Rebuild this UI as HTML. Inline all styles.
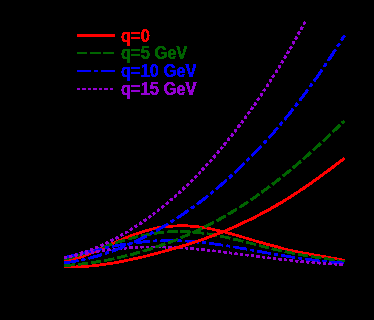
<!DOCTYPE html>
<html><head><meta charset="utf-8"><style>
html,body{margin:0;padding:0;background:#000;}
svg{display:block;}
text{font-family:"Liberation Sans",sans-serif;font-size:16px;font-weight:bold;}
</style></head><body>
<svg width="374" height="320" viewBox="0 0 374 320">
<defs><filter id="th" x="0" y="0" width="374" height="320" filterUnits="userSpaceOnUse" color-interpolation-filters="sRGB"><feComponentTransfer><feFuncA type="discrete" tableValues="0 1"/></feComponentTransfer></filter><filter id="th3" x="0" y="0" width="374" height="320" filterUnits="userSpaceOnUse" color-interpolation-filters="sRGB"><feComponentTransfer><feFuncA type="discrete" tableValues="0 0 0 0 0 0 0 1 1 1 1 1 1 1 1 1 1 1 1 1"/></feComponentTransfer></filter></defs>
<rect width="374" height="320" fill="#000"/>
<g filter="url(#th3)"><path d="M64.40 260.94 C67.73 260.57 71.07 259.89 74.40 259.00 C77.74 258.11 81.07 257.00 84.41 255.75 C87.74 254.51 91.08 253.13 94.41 251.68 C97.75 250.23 101.08 248.72 104.41 247.19 C107.75 245.67 111.08 244.14 114.42 242.64 C117.75 241.15 121.09 239.69 124.42 238.31 C127.76 236.93 131.09 235.62 134.43 234.42 C137.76 233.22 141.09 232.12 144.43 231.15 C147.76 230.17 151.10 229.32 154.43 228.60 C157.77 227.88 161.10 227.30 164.44 226.85 C167.77 226.40 171.10 226.10 174.44 225.92 C177.77 225.75 181.11 225.71 184.44 225.80 C187.78 225.89 191.11 226.11 194.45 226.44 C197.78 226.77 201.12 227.22 204.45 227.76 C207.78 228.30 211.12 228.94 214.45 229.66 C217.79 230.38 221.12 231.18 224.46 232.03 C227.79 232.88 231.13 233.79 234.46 234.73 C237.80 235.67 241.13 236.64 244.46 237.63 C247.80 238.62 251.13 239.62 254.47 240.61 C257.80 241.60 261.14 242.58 264.47 243.54 C267.81 244.49 271.14 245.43 274.48 246.32 C277.81 247.21 281.14 248.07 284.48 248.88 C287.81 249.69 291.15 250.45 294.48 251.17 C297.82 251.88 301.15 252.55 304.49 253.19 C307.82 253.82 311.15 254.41 314.49 254.99 C317.82 255.57 321.16 256.12 324.49 256.69 C327.83 257.25 331.16 257.83 334.50 258.45 C337.83 259.08 341.17 259.76 344.50 260.56" fill="none" stroke="#ff0000" stroke-width="2.56"/></g>
<g filter="url(#th3)"><path d="M64.40 259.03 C67.73 258.28 71.07 257.42 74.40 256.47 C77.74 255.53 81.07 254.50 84.41 253.43 C87.74 252.36 91.08 251.24 94.41 250.10 C97.75 248.97 101.08 247.82 104.41 246.68 C107.75 245.54 111.08 244.42 114.42 243.33 C117.75 242.25 121.09 241.20 124.42 240.21 C127.76 239.23 131.09 238.30 134.43 237.45 C137.76 236.60 141.09 235.82 144.43 235.14 C147.76 234.46 151.10 233.86 154.43 233.37 C157.77 232.87 161.10 232.47 164.44 232.18 C167.77 231.88 171.10 231.69 174.44 231.60 C177.77 231.51 181.11 231.52 184.44 231.62 C187.78 231.73 191.11 231.94 194.45 232.23 C197.78 232.53 201.12 232.91 204.45 233.37 C207.78 233.84 211.12 234.38 214.45 234.98 C217.79 235.59 221.12 236.26 224.46 236.98 C227.79 237.70 231.13 238.47 234.46 239.26 C237.80 240.06 241.13 240.89 244.46 241.74 C247.80 242.58 251.13 243.44 254.47 244.29 C257.80 245.15 261.14 246.00 264.47 246.84 C267.81 247.67 271.14 248.49 274.48 249.27 C277.81 250.06 281.14 250.81 284.48 251.53 C287.81 252.25 291.15 252.93 294.48 253.57 C297.82 254.21 301.15 254.81 304.49 255.37 C307.82 255.93 311.15 256.46 314.49 256.96 C317.82 257.47 321.16 257.95 324.49 258.44 C327.83 258.93 331.16 259.42 334.50 259.94 C337.83 260.47 341.17 261.04 344.50 261.69" fill="none" stroke="#006400" stroke-width="2.54" stroke-dasharray="10.5 2.81" stroke-dashoffset="0.00"/></g>
<g filter="url(#th3)"><path d="M64.40 257.43 C67.73 256.72 71.07 255.95 74.40 255.17 C77.74 254.38 81.07 253.58 84.41 252.78 C87.74 251.97 91.08 251.17 94.41 250.39 C97.75 249.61 101.08 248.85 104.41 248.12 C107.75 247.40 111.08 246.71 114.42 246.06 C117.75 245.42 121.09 244.82 124.42 244.27 C127.76 243.73 131.09 243.24 134.43 242.81 C137.76 242.38 141.09 242.01 144.43 241.71 C147.76 241.40 151.10 241.16 154.43 240.98 C157.77 240.80 161.10 240.69 164.44 240.63 C167.77 240.58 171.10 240.59 174.44 240.66 C177.77 240.73 181.11 240.86 184.44 241.04 C187.78 241.22 191.11 241.46 194.45 241.75 C197.78 242.04 201.12 242.37 204.45 242.75 C207.78 243.13 211.12 243.55 214.45 244.01 C217.79 244.46 221.12 244.95 224.46 245.47 C227.79 245.99 231.13 246.53 234.46 247.09 C237.80 247.65 241.13 248.23 244.46 248.82 C247.80 249.41 251.13 250.01 254.47 250.61 C257.80 251.21 261.14 251.81 264.47 252.41 C267.81 253.00 271.14 253.59 274.48 254.17 C277.81 254.75 281.14 255.32 284.48 255.86 C287.81 256.41 291.15 256.94 294.48 257.45 C297.82 257.95 301.15 258.44 304.49 258.89 C307.82 259.35 311.15 259.78 314.49 260.19 C317.82 260.59 321.16 260.97 324.49 261.32 C327.83 261.67 331.16 262.00 334.50 262.30 C337.83 262.60 341.17 262.88 344.50 263.15" fill="none" stroke="#0000ff" stroke-width="2.53" stroke-dasharray="14.2 3.1 4 3.1" stroke-dashoffset="0.00"/></g>
<g filter="url(#th3)"><path d="M64.40 257.68 C67.73 256.98 71.07 256.29 74.40 255.62 C77.74 254.95 81.07 254.30 84.41 253.68 C87.74 253.06 91.08 252.48 94.41 251.93 C97.75 251.38 101.08 250.87 104.41 250.41 C107.75 249.94 111.08 249.52 114.42 249.14 C117.75 248.77 121.09 248.44 124.42 248.16 C127.76 247.88 131.09 247.65 134.43 247.46 C137.76 247.28 141.09 247.15 144.43 247.06 C147.76 246.97 151.10 246.93 154.43 246.93 C157.77 246.94 161.10 246.99 164.44 247.08 C167.77 247.17 171.10 247.30 174.44 247.47 C177.77 247.64 181.11 247.84 184.44 248.08 C187.78 248.32 191.11 248.59 194.45 248.89 C197.78 249.19 201.12 249.52 204.45 249.87 C207.78 250.22 211.12 250.59 214.45 250.98 C217.79 251.36 221.12 251.77 224.46 252.18 C227.79 252.60 231.13 253.02 234.46 253.46 C237.80 253.89 241.13 254.33 244.46 254.76 C247.80 255.20 251.13 255.64 254.47 256.08 C257.80 256.51 261.14 256.94 264.47 257.36 C267.81 257.78 271.14 258.19 274.48 258.60 C277.81 259.00 281.14 259.38 284.48 259.76 C287.81 260.13 291.15 260.49 294.48 260.83 C297.82 261.17 301.15 261.50 304.49 261.80 C307.82 262.11 311.15 262.40 314.49 262.66 C317.82 262.93 321.16 263.19 324.49 263.42 C327.83 263.65 331.16 263.87 334.50 264.07 C337.83 264.27 341.17 264.46 344.50 264.63" fill="none" stroke="#9400d3" stroke-width="2.52" stroke-dasharray="3.3 2.25" stroke-dashoffset="0.85"/></g>
<g filter="url(#th3)"><path d="M64.40 266.61 C67.51 266.80 70.62 266.89 73.74 266.88 C76.85 266.87 79.96 266.78 83.07 266.60 C86.19 266.43 89.30 266.18 92.41 265.87" fill="none" stroke="#ff0000" stroke-width="2.47"/><path d="M92.41 265.87 C95.52 265.56 98.63 265.19 101.75 264.77 C104.86 264.34 107.97 263.87 111.08 263.35 C114.20 262.84 117.31 262.28 120.42 261.68" fill="none" stroke="#ff0000" stroke-width="2.55"/><path d="M120.42 261.68 C123.53 261.09 126.64 260.46 129.76 259.80 C132.87 259.13 135.98 258.44 139.09 257.72 C142.21 257.01 145.32 256.26 148.43 255.49" fill="none" stroke="#ff0000" stroke-width="2.60"/><path d="M148.43 255.49 C151.54 254.72 154.65 253.92 157.77 253.10 C160.88 252.27 163.99 251.43 167.10 250.55 C170.22 249.68 173.33 248.78 176.44 247.86" fill="none" stroke="#ff0000" stroke-width="2.63"/><path d="M176.44 247.86 C179.55 246.93 182.66 245.98 185.78 245.00 C188.89 244.02 192.00 243.01 195.11 241.97 C198.23 240.93 201.34 239.85 204.45 238.75" fill="none" stroke="#ff0000" stroke-width="2.67"/><path d="M204.45 238.75 C207.56 237.64 210.67 236.50 213.79 235.31 C216.90 234.13 220.01 232.91 223.12 231.65 C226.24 230.39 229.35 229.09 232.46 227.74" fill="none" stroke="#ff0000" stroke-width="2.71"/><path d="M232.46 227.74 C235.57 226.39 238.68 225.00 241.80 223.56 C244.91 222.12 248.02 220.63 251.13 219.09 C254.25 217.55 257.36 215.96 260.47 214.32" fill="none" stroke="#ff0000" stroke-width="2.77"/><path d="M260.47 214.32 C263.58 212.68 266.69 210.98 269.81 209.24 C272.92 207.49 276.03 205.69 279.14 203.83 C282.26 201.98 285.37 200.07 288.48 198.11" fill="none" stroke="#ff0000" stroke-width="2.84"/><path d="M288.48 198.11 C291.59 196.16 294.70 194.14 297.82 192.08 C300.93 190.02 304.04 187.91 307.15 185.76 C310.27 183.61 313.38 181.40 316.49 179.17" fill="none" stroke="#ff0000" stroke-width="2.85"/><path d="M316.49 179.17 C319.60 176.93 322.71 174.65 325.83 172.34 C328.94 170.03 332.05 167.68 335.16 165.32 C338.28 162.95 341.39 160.57 344.50 158.17" fill="none" stroke="#ff0000" stroke-width="2.85"/></g>
<g filter="url(#th3)"><path d="M64.40 265.57 C67.51 265.39 70.62 265.15 73.74 264.86 C76.85 264.57 79.96 264.23 83.07 263.85 C86.19 263.47 89.30 263.04 92.41 262.57" fill="none" stroke="#006400" stroke-width="2.52" stroke-dasharray="10.5 2.81" stroke-dashoffset="0.00"/><path d="M92.41 262.57 C95.52 262.10 98.63 261.59 101.75 261.03 C104.86 260.47 107.97 259.88 111.08 259.24 C114.20 258.60 117.31 257.92 120.42 257.20" fill="none" stroke="#006400" stroke-width="2.58" stroke-dasharray="10.5 2.81" stroke-dashoffset="28.18"/><path d="M120.42 257.20 C123.53 256.48 126.64 255.72 129.76 254.92 C132.87 254.11 135.98 253.27 139.09 252.39 C142.21 251.50 145.32 250.57 148.43 249.60" fill="none" stroke="#006400" stroke-width="2.63" stroke-dasharray="10.5 2.81" stroke-dashoffset="56.71"/><path d="M148.43 249.60 C151.54 248.63 154.65 247.62 157.77 246.56 C160.88 245.50 163.99 244.40 167.10 243.25 C170.22 242.10 173.33 240.91 176.44 239.66" fill="none" stroke="#006400" stroke-width="2.69" stroke-dasharray="10.5 2.81" stroke-dashoffset="85.74"/><path d="M176.44 239.66 C179.55 238.42 182.66 237.13 185.78 235.79 C188.89 234.45 192.00 233.06 195.11 231.61 C198.23 230.17 201.34 228.68 204.45 227.13" fill="none" stroke="#006400" stroke-width="2.75" stroke-dasharray="10.5 2.81" stroke-dashoffset="115.46"/><path d="M204.45 227.13 C207.56 225.58 210.67 223.98 213.79 222.32 C216.90 220.67 220.01 218.96 223.12 217.19 C226.24 215.42 229.35 213.60 232.46 211.72" fill="none" stroke="#006400" stroke-width="2.82" stroke-dasharray="10.5 2.81" stroke-dashoffset="146.16"/><path d="M232.46 211.72 C235.57 209.84 238.68 207.90 241.80 205.90 C244.91 203.90 248.02 201.85 251.13 199.74 C254.25 197.62 257.36 195.45 260.47 193.22" fill="none" stroke="#006400" stroke-width="2.85" stroke-dasharray="10.5 2.81" stroke-dashoffset="178.14"/><path d="M260.47 193.22 C263.58 190.99 266.69 188.71 269.81 186.36 C272.92 184.02 276.03 181.62 279.14 179.17 C282.26 176.71 285.37 174.20 288.48 171.64" fill="none" stroke="#006400" stroke-width="2.85" stroke-dasharray="10.5 2.81" stroke-dashoffset="211.71"/><path d="M288.48 171.64 C291.59 169.08 294.70 166.46 297.82 163.79 C300.93 161.13 304.04 158.42 307.15 155.66 C310.27 152.90 313.38 150.09 316.49 147.25" fill="none" stroke="#006400" stroke-width="2.85" stroke-dasharray="10.5 2.81" stroke-dashoffset="247.08"/><path d="M316.49 147.25 C319.60 144.41 322.71 141.52 325.83 138.61 C328.94 135.69 332.05 132.74 335.16 129.76 C338.28 126.79 341.39 123.79 344.50 120.77" fill="none" stroke="#006400" stroke-width="2.85" stroke-dasharray="10.5 2.81" stroke-dashoffset="284.22"/></g>
<g filter="url(#th3)"><path d="M64.40 262.81 C67.51 262.45 70.62 261.99 73.74 261.46 C76.85 260.93 79.96 260.32 83.07 259.63 C86.19 258.94 89.30 258.18 92.41 257.34" fill="none" stroke="#0000ff" stroke-width="2.58" stroke-dasharray="14.2 3.1 4 3.1" stroke-dashoffset="0.00"/><path d="M92.41 257.34 C95.52 256.50 98.63 255.59 101.75 254.61 C104.86 253.63 107.97 252.58 111.08 251.47 C114.20 250.35 117.31 249.17 120.42 247.92" fill="none" stroke="#0000ff" stroke-width="2.67" stroke-dasharray="14.2 3.1 4 3.1" stroke-dashoffset="28.57"/><path d="M120.42 247.92 C123.53 246.67 126.64 245.35 129.76 243.97 C132.87 242.59 135.98 241.15 139.09 239.64 C142.21 238.13 145.32 236.56 148.43 234.92" fill="none" stroke="#0000ff" stroke-width="2.76" stroke-dasharray="14.2 3.1 4 3.1" stroke-dashoffset="58.14"/><path d="M148.43 234.92 C151.54 233.29 154.65 231.59 157.77 229.82 C160.88 228.06 163.99 226.23 167.10 224.34 C170.22 222.45 173.33 220.50 176.44 218.48" fill="none" stroke="#0000ff" stroke-width="2.84" stroke-dasharray="14.2 3.1 4 3.1" stroke-dashoffset="89.03"/><path d="M176.44 218.48 C179.55 216.46 182.66 214.37 185.78 212.22 C188.89 210.07 192.00 207.86 195.11 205.57 C198.23 203.29 201.34 200.93 204.45 198.51" fill="none" stroke="#0000ff" stroke-width="2.85" stroke-dasharray="14.2 3.1 4 3.1" stroke-dashoffset="121.52"/><path d="M204.45 198.51 C207.56 196.09 210.67 193.60 213.79 191.04 C216.90 188.48 220.01 185.84 223.12 183.14 C226.24 180.43 229.35 177.65 232.46 174.80" fill="none" stroke="#0000ff" stroke-width="2.85" stroke-dasharray="14.2 3.1 4 3.1" stroke-dashoffset="155.92"/><path d="M232.46 174.80 C235.57 171.94 238.68 169.01 241.80 166.00 C244.91 163.00 248.02 159.91 251.13 156.75 C254.25 153.58 257.36 150.34 260.47 147.01" fill="none" stroke="#0000ff" stroke-width="2.85" stroke-dasharray="14.2 3.1 4 3.1" stroke-dashoffset="192.64"/><path d="M260.47 147.01 C263.58 143.68 266.69 140.27 269.81 136.78 C272.92 133.28 276.03 129.70 279.14 126.04 C282.26 122.37 285.37 118.62 288.48 114.77" fill="none" stroke="#0000ff" stroke-width="2.85" stroke-dasharray="14.2 3.1 4 3.1" stroke-dashoffset="232.10"/><path d="M288.48 114.77 C291.59 110.93 294.70 107.00 297.82 102.98 C300.93 98.95 304.04 94.84 307.15 90.63 C310.27 86.42 313.38 82.12 316.49 77.73" fill="none" stroke="#0000ff" stroke-width="2.85" stroke-dasharray="14.2 3.1 4 3.1" stroke-dashoffset="274.82"/><path d="M316.49 77.73 C319.60 73.33 322.71 68.84 325.83 64.25 C328.94 59.66 332.05 54.98 335.16 50.20 C338.28 45.41 341.39 40.53 344.50 35.55" fill="none" stroke="#0000ff" stroke-width="2.85" stroke-dasharray="14.2 3.1 4 3.1" stroke-dashoffset="321.27"/></g>
<g filter="url(#th3)"><path d="M64.40 257.66 C67.08 257.08 69.77 256.43 72.45 255.71 C75.13 254.99 77.81 254.20 80.50 253.34 C83.18 252.49 85.86 251.56 88.55 250.57" fill="none" stroke="#9400d3" stroke-width="2.65" stroke-dasharray="3.3 2.25" stroke-dashoffset="0.85"/><path d="M88.55 250.57 C91.23 249.59 93.91 248.53 96.59 247.41 C99.28 246.29 101.96 245.10 104.64 243.85 C107.33 242.60 110.01 241.29 112.69 239.91" fill="none" stroke="#9400d3" stroke-width="2.74" stroke-dasharray="3.3 2.25" stroke-dashoffset="26.03"/><path d="M112.69 239.91 C115.37 238.53 118.06 237.09 120.74 235.59 C123.42 234.08 126.11 232.51 128.79 230.88 C131.47 229.25 134.16 227.55 136.84 225.79" fill="none" stroke="#9400d3" stroke-width="2.84" stroke-dasharray="3.3 2.25" stroke-dashoffset="52.45"/><path d="M136.84 225.79 C139.52 224.03 142.20 222.21 144.89 220.32 C147.57 218.43 150.25 216.48 152.94 214.46 C155.62 212.44 158.30 210.36 160.98 208.21" fill="none" stroke="#9400d3" stroke-width="2.85" stroke-dasharray="3.3 2.25" stroke-dashoffset="80.43"/><path d="M160.98 208.21 C163.67 206.06 166.35 203.85 169.03 201.56 C171.72 199.28 174.40 196.94 177.08 194.52 C179.76 192.10 182.45 189.62 185.13 187.07" fill="none" stroke="#9400d3" stroke-width="2.85" stroke-dasharray="3.3 2.25" stroke-dashoffset="110.31"/><path d="M185.13 187.07 C187.81 184.51 190.50 181.89 193.18 179.20 C195.86 176.51 198.54 173.74 201.23 170.91 C203.91 168.07 206.59 165.17 209.28 162.19" fill="none" stroke="#9400d3" stroke-width="2.85" stroke-dasharray="3.3 2.25" stroke-dashoffset="142.41"/><path d="M209.28 162.19 C211.96 159.21 214.64 156.15 217.32 153.02 C220.01 149.90 222.69 146.69 225.37 143.41 C228.06 140.13 230.74 136.78 233.42 133.34" fill="none" stroke="#9400d3" stroke-width="2.85" stroke-dasharray="3.3 2.25" stroke-dashoffset="177.09"/><path d="M233.42 133.34 C236.11 129.91 238.79 126.40 241.47 122.80 C244.15 119.21 246.84 115.54 249.52 111.79 C252.20 108.03 254.89 104.20 257.57 100.28" fill="none" stroke="#9400d3" stroke-width="2.85" stroke-dasharray="3.3 2.25" stroke-dashoffset="214.72"/><path d="M257.57 100.28 C260.25 96.36 262.93 92.36 265.62 88.28 C268.30 84.20 270.98 80.03 273.67 75.77 C276.35 71.52 279.03 67.18 281.71 62.75" fill="none" stroke="#9400d3" stroke-width="2.85" stroke-dasharray="3.3 2.25" stroke-dashoffset="255.66"/><path d="M281.71 62.75 C284.40 58.32 287.08 53.81 289.76 49.21 C292.45 44.60 295.13 39.91 297.81 35.13 C300.49 30.35 303.18 25.48 305.86 20.52" fill="none" stroke="#9400d3" stroke-width="2.85" stroke-dasharray="3.3 2.25" stroke-dashoffset="300.30"/></g>
<line x1="77" y1="35.5" x2="115" y2="35.5" stroke="#ff0000" stroke-width="3" filter="url(#th)"/>
<g filter="url(#th)"><text transform="translate(121,41.7) scale(1.03,1.1)" fill="#ff0000" stroke="#ff0000" stroke-width="0.35">q=0</text></g>
<line x1="77" y1="53" x2="115" y2="53" stroke="#006400" stroke-width="2" stroke-dasharray="10.4 2.8" filter="url(#th)"/>
<g filter="url(#th)"><text transform="translate(121,59.0) scale(1.03,1.1)" fill="#006400" stroke="#006400" stroke-width="0.35">q=5 GeV</text></g>
<line x1="77" y1="71" x2="115" y2="71" stroke="#0000ff" stroke-width="2" stroke-dasharray="14 3 4 3" filter="url(#th)"/>
<g filter="url(#th)"><text transform="translate(121,76.6) scale(1.03,1.1)" fill="#0000ff" stroke="#0000ff" stroke-width="0.35">q=10 GeV</text></g>
<line x1="77" y1="89" x2="115" y2="89" stroke="#9400d3" stroke-width="2" stroke-dasharray="3.2 2.3" filter="url(#th)"/>
<g filter="url(#th)"><text transform="translate(121,94.9) scale(1.03,1.1)" fill="#9400d3" stroke="#9400d3" stroke-width="0.35">q=15 GeV</text></g>
</svg>
</body></html>
